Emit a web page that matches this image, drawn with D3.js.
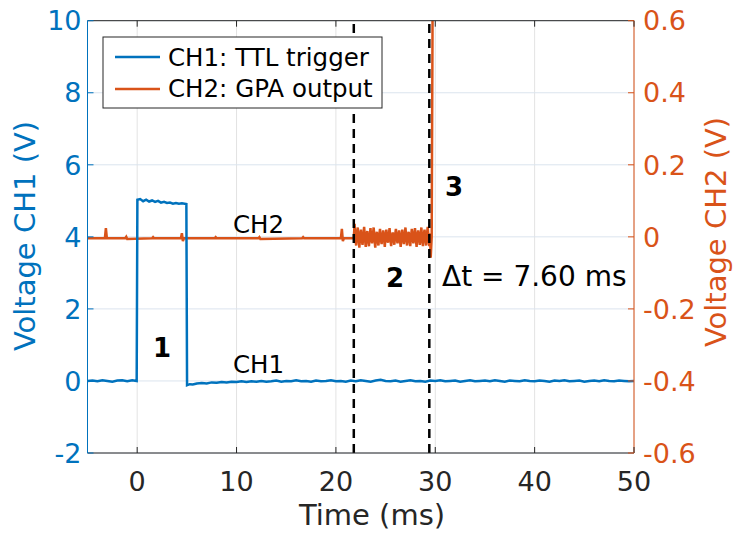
<!DOCTYPE html>
<html>
<head>
<meta charset="utf-8">
<script src="https://cdn.jsdelivr.net/npm/d3@7"></script>
<style>
  body { margin: 0; background: #fff; }
  text { font-family: 'DejaVu Sans', Verdana, sans-serif; }
</style>
</head>
<body>
<svg id="chart" width="734" height="533"></svg>
<script>
// data (t in ms, volts)
const xTicks = [0, 10, 20, 30, 40, 50]
const yLeftTicks = [-2, 0, 2, 4, 6, 8, 10]
const yRightTicks = [-0.6, -0.4, -0.2, 0, 0.2, 0.4, 0.6]

const ch1 = [
  [-5, 0.00], [-4.5, 0.01], [-4, -0.01], [-3.5, 0.02], [-3, 0.00], [-2.5, -0.02],
  [-2, 0.01], [-1.5, 0.02], [-1, -0.01], [-0.5, 0.02], [-0.05, 0.00],
  [0.02, 5.03], [0.3, 5.05], [0.6, 4.99], [0.9, 5.03], [1.2, 4.98], [1.5, 5.01],
  [1.8, 4.97], [2.1, 5.00], [2.4, 4.95], [2.7, 4.97], [3.0, 4.94], [3.3, 4.95],
  [3.6, 4.92], [3.9, 4.94], [4.2, 4.92], [4.5, 4.93], [4.95, 4.91],
  [5.02, -0.12], [5.3, -0.09], [5.6, -0.10], [6.0, -0.07], [6.5, -0.06],
  [7.0, -0.07], [7.5, -0.04], [8.0, -0.05], [8.5, -0.03], [9.0, -0.04],
  [9.5, -0.02], [10, -0.03], [10.5, -0.01], [11, -0.03], [11.5, -0.01],
  [12, -0.02], [12.5, 0.00], [13, -0.02], [13.5, -0.01], [14, 0.01],
  [14.5, -0.02], [15, 0.00], [15.5, -0.01], [16, 0.02], [16.5, -0.01],
  [17, 0.00], [17.5, -0.02], [18, 0.01], [18.5, -0.01], [19, 0.00],
  [19.5, 0.02], [20, -0.01], [20.5, 0.00], [21, -0.02], [21.5, 0.01],
  [22, -0.01], [22.5, 0.02], [23, 0.00], [23.5, -0.02], [24, 0.01],
  [24.5, 0.03], [25, 0.00], [25.5, -0.01], [26, 0.01], [26.5, -0.02],
  [27, 0.00], [27.5, 0.02], [28, -0.01], [28.5, 0.00], [29, -0.02],
  [29.5, 0.01], [30, 0.00], [30.5, 0.02], [31, -0.01], [31.5, 0.00],
  [32, 0.01], [32.5, -0.02], [33, 0.00], [33.5, 0.02], [34, -0.01],
  [34.5, 0.00], [35, 0.01], [35.5, -0.01], [36, 0.02], [36.5, 0.00],
  [37, -0.02], [37.5, 0.01], [38, 0.00], [38.5, -0.01], [39, 0.02],
  [39.5, 0.00], [40, -0.01], [40.5, 0.01], [41, 0.00], [41.5, -0.02],
  [42, 0.01], [42.5, 0.00], [43, 0.02], [43.5, -0.01], [44, 0.00],
  [44.5, 0.01], [45, -0.02], [45.5, 0.00], [46, 0.01], [46.5, -0.01],
  [47, 0.02], [47.5, 0.00], [48, -0.01], [48.5, 0.01], [49, 0.00],
  [49.5, -0.01], [50, 0.00]
]

const ch2 = [
  [-5, -0.004], [-3.25, -0.004], [-3.15, 0.024], [-3.05, -0.004], [-1.2, -0.004],
  [-1.1, 0.000], [-1.0, -0.006], [1.5, -0.004], [1.6, -0.001], [1.7, -0.004],
  [4.4, -0.004], [4.5, 0.010], [4.6, -0.012], [4.7, -0.004], [7.8, -0.004],
  [7.9, -0.001], [8.0, -0.004], [12.2, -0.004], [12.3, -0.001], [12.4, -0.006],
  [16.6, -0.004], [16.7, -0.001], [16.8, -0.004], [20.5, -0.004], [20.6, 0.022],
  [20.7, -0.012], [20.8, -0.004], [21.8, -0.004],
  [21.88, 0.036], [21.96, -0.006], [22.04, -0.024], [22.12, 0.010], [22.20, 0.026],
  [22.28, -0.004], [22.36, -0.030], [22.44, 0.006], [22.52, 0.020], [22.60, -0.008],
  [22.68, -0.022], [22.76, 0.004], [22.84, 0.028], [22.92, -0.002], [23.00, -0.028],
  [23.08, 0.008], [23.16, 0.016], [23.24, -0.010], [23.32, -0.026], [23.40, 0.002],
  [23.48, 0.024], [23.56, -0.006], [23.64, -0.018], [23.72, 0.006], [23.80, 0.026],
  [23.88, -0.004], [23.96, -0.030], [24.04, 0.002], [24.12, 0.014], [24.20, -0.008],
  [24.28, -0.024], [24.36, 0.004], [24.44, 0.022], [24.52, -0.006], [24.60, -0.020],
  [24.68, 0.002], [24.76, 0.018], [24.84, -0.004], [24.92, -0.028], [25.00, 0.004],
  [25.08, 0.020], [25.16, -0.008], [25.24, -0.016], [25.32, 0.004], [25.40, 0.024],
  [25.48, -0.006], [25.56, -0.026], [25.64, 0.002], [25.72, 0.012], [25.80, -0.006],
  [25.88, -0.022], [25.96, 0.006], [26.04, 0.022], [26.12, -0.004], [26.20, -0.018],
  [26.28, 0.004], [26.36, 0.018], [26.44, -0.008], [26.52, -0.028], [26.60, 0.002],
  [26.68, 0.020], [26.76, -0.006], [26.84, -0.020], [26.92, 0.004], [27.00, 0.026],
  [27.08, -0.004], [27.16, -0.024], [27.24, 0.006], [27.32, 0.014], [27.40, -0.008],
  [27.48, -0.026], [27.56, 0.002], [27.64, 0.022], [27.72, -0.004], [27.80, -0.018],
  [27.88, 0.006], [27.96, 0.024], [28.04, -0.006], [28.12, -0.028], [28.20, 0.004],
  [28.28, 0.018], [28.36, -0.004], [28.44, -0.022], [28.52, 0.002], [28.60, 0.026],
  [28.68, -0.008], [28.76, -0.026], [28.84, 0.004], [28.92, 0.020], [29.00, -0.004],
  [29.08, -0.024], [29.16, 0.006], [29.24, 0.028], [29.32, -0.006], [29.40, -0.026],
  [29.48, 0.010], [29.54, -0.058], [29.64, 0.000], [29.74, 0.700], [30.5, 0.900]
]

const markerTimes = [21.8, 29.4]

const legendItems = ['CH1: TTL trigger', 'CH2: GPA output']

// layout
const width = 734
const height = 533
const margin = { top: 20.7, right: 100, bottom: 80, left: 87.5 }
const blue = '#0072BD'
const orange = '#D95319'
const axisGray = '#262626'
const tickLen = 6

const svg = d3.select('#chart')

const x = d3.scaleLinear().domain([-5, 50]).range([margin.left, width - margin.right])
const yL = d3.scaleLinear().domain([-2, 10]).range([height - margin.bottom, margin.top])
const yR = d3.scaleLinear().domain([-0.6, 0.6]).range([height - margin.bottom, margin.top])

const x0 = x.range()[0], x1 = x.range()[1]
const y0 = yL.range()[0], y1 = yL.range()[1]

svg.append('defs').append('clipPath').attr('id', 'plotClip')
  .append('rect')
  .attr('x', x0).attr('y', y1)
  .attr('width', x1 - x0).attr('height', y0 - y1)

// grid
svg.append('g')
  .selectAll('line')
  .data(xTicks)
  .enter()
  .append('line')
  .attr('x1', d => x(d)).attr('x2', d => x(d))
  .attr('y1', y0).attr('y2', y1)
  .style('stroke', '#e3e3e3')
  .style('stroke-width', 1)

svg.append('g')
  .selectAll('line')
  .data(yLeftTicks)
  .enter()
  .append('line')
  .attr('x1', x0).attr('x2', x1)
  .attr('y1', d => yL(d)).attr('y2', d => yL(d))
  .style('stroke', '#dbe4ee')
  .style('stroke-width', 1)

// traces
const plot = svg.append('g').attr('clip-path', 'url(#plotClip)')

const lineL = d3.line().x(d => x(d[0])).y(d => yL(d[1]))
const lineR = d3.line().x(d => x(d[0])).y(d => yR(d[1]))

plot.append('path')
  .datum(ch2)
  .attr('d', lineR)
  .style('fill', 'none')
  .style('stroke', orange)
  .style('stroke-width', 2.5)

plot.append('path')
  .datum(ch1)
  .attr('d', lineL)
  .style('fill', 'none')
  .style('stroke', blue)
  .style('stroke-width', 2.5)

plot.selectAll('.marker')
  .data(markerTimes)
  .enter()
  .append('line')
  .attr('class', 'marker')
  .attr('x1', d => x(d)).attr('x2', d => x(d))
  .attr('y1', y0).attr('y2', y1)
  .style('stroke', '#000')
  .style('stroke-width', 2.5)
  .style('stroke-dasharray', '9,6')

// axes box
const axisG = svg.append('g')

axisG.append('line')
  .attr('x1', x0).attr('x2', x1).attr('y1', y0).attr('y2', y0)
  .style('stroke', axisGray)
axisG.append('line')
  .attr('x1', x0).attr('x2', x1).attr('y1', y1).attr('y2', y1)
  .style('stroke', axisGray)
axisG.append('line')
  .attr('x1', x0).attr('x2', x0).attr('y1', y0).attr('y2', y1)
  .style('stroke', blue)
axisG.append('line')
  .attr('x1', x1).attr('x2', x1).attr('y1', y0).attr('y2', y1)
  .style('stroke', orange)

// x ticks (bottom + top, inward)
xTicks.forEach(t => {
  axisG.append('line')
    .attr('x1', x(t)).attr('x2', x(t)).attr('y1', y0).attr('y2', y0 - tickLen)
    .style('stroke', axisGray)
  axisG.append('line')
    .attr('x1', x(t)).attr('x2', x(t)).attr('y1', y1).attr('y2', y1 + tickLen)
    .style('stroke', axisGray)
})

axisG.selectAll('.xlab')
  .data(xTicks)
  .enter()
  .append('text')
  .attr('class', 'xlab')
  .attr('x', d => x(d))
  .attr('y', y0 + 38)
  .attr('text-anchor', 'middle')
  .style('font-size', '27px')
  .style('fill', axisGray)
  .text(d => d)

// left y ticks
axisG.selectAll('.ylTick')
  .data(yLeftTicks)
  .enter()
  .append('line')
  .attr('class', 'ylTick')
  .attr('x1', x0).attr('x2', x0 + tickLen)
  .attr('y1', d => yL(d)).attr('y2', d => yL(d))
  .style('stroke', blue)

axisG.selectAll('.ylLab')
  .data(yLeftTicks)
  .enter()
  .append('text')
  .attr('class', 'ylLab')
  .attr('x', x0 - 6)
  .attr('y', d => yL(d))
  .attr('dy', '0.36em')
  .attr('text-anchor', 'end')
  .style('font-size', '27px')
  .style('fill', blue)
  .text(d => d < 0 ? '-' + Math.abs(d) : d)

// right y ticks
axisG.selectAll('.yrTick')
  .data(yRightTicks)
  .enter()
  .append('line')
  .attr('class', 'yrTick')
  .attr('x1', x1).attr('x2', x1 - tickLen)
  .attr('y1', d => yR(d)).attr('y2', d => yR(d))
  .style('stroke', orange)

axisG.selectAll('.yrLab')
  .data(yRightTicks)
  .enter()
  .append('text')
  .attr('class', 'yrLab')
  .attr('x', x1 + 9)
  .attr('y', d => yR(d))
  .attr('dy', '0.36em')
  .attr('text-anchor', 'start')
  .style('font-size', '27px')
  .style('fill', orange)
  .text(d => d < 0 ? '-' + Math.abs(d) : (d === 0 ? '0' : d))

// axis labels
svg.append('text')
  .attr('x', 372)
  .attr('y', 525)
  .attr('text-anchor', 'middle')
  .style('font-size', '29px')
  .style('fill', axisGray)
  .text('Time (ms)')

svg.append('text')
  .attr('transform', 'translate(35,236) rotate(-90)')
  .attr('text-anchor', 'middle')
  .style('font-size', '29px')
  .style('fill', blue)
  .text('Voltage CH1 (V)')

svg.append('text')
  .attr('transform', 'translate(726,232) rotate(-90)')
  .attr('text-anchor', 'middle')
  .style('font-size', '29px')
  .style('fill', orange)
  .text('Voltage CH2 (V)')

// annotations
const notes = svg.append('g')

notes.append('text').attr('x', 233).attr('y', 233)
  .style('font-size', '24.5px').style('fill', '#000').text('CH2')
notes.append('text').attr('x', 233).attr('y', 373)
  .style('font-size', '24.5px').style('fill', '#000').text('CH1')
notes.append('text').attr('x', 442).attr('y', 286)
  .style('font-size', '28px').style('fill', '#000').text('\u0394t = 7.60 ms')

const steps = [['1', 153, 357], ['2', 386, 287], ['3', 445, 196]]
notes.selectAll('.step')
  .data(steps)
  .enter()
  .append('text')
  .attr('class', 'step')
  .attr('x', d => d[1])
  .attr('y', d => d[2])
  .style('font-size', '26px')
  .style('font-weight', 'bold')
  .style('fill', '#000')
  .text(d => d[0])

// legend
const legend = svg.append('g')

legend.append('rect')
  .attr('x', 103).attr('y', 37)
  .attr('width', 279).attr('height', 71)
  .style('fill', '#fff')
  .style('stroke', axisGray)
  .style('stroke-width', 1)

legend.selectAll('.legLine')
  .data(legendItems)
  .enter()
  .append('line')
  .attr('class', 'legLine')
  .attr('x1', 115).attr('x2', 160)
  .attr('y1', (d, i) => 57 + i * 32).attr('y2', (d, i) => 57 + i * 32)
  .style('stroke', (d, i) => i === 0 ? blue : orange)
  .style('stroke-width', 2.5)

legend.selectAll('.legText')
  .data(legendItems)
  .enter()
  .append('text')
  .attr('class', 'legText')
  .attr('x', 168)
  .attr('y', (d, i) => 66 + i * 31)
  .style('font-size', '24.5px')
  .style('fill', '#000')
  .text(d => d)
</script>
</body>
</html>
